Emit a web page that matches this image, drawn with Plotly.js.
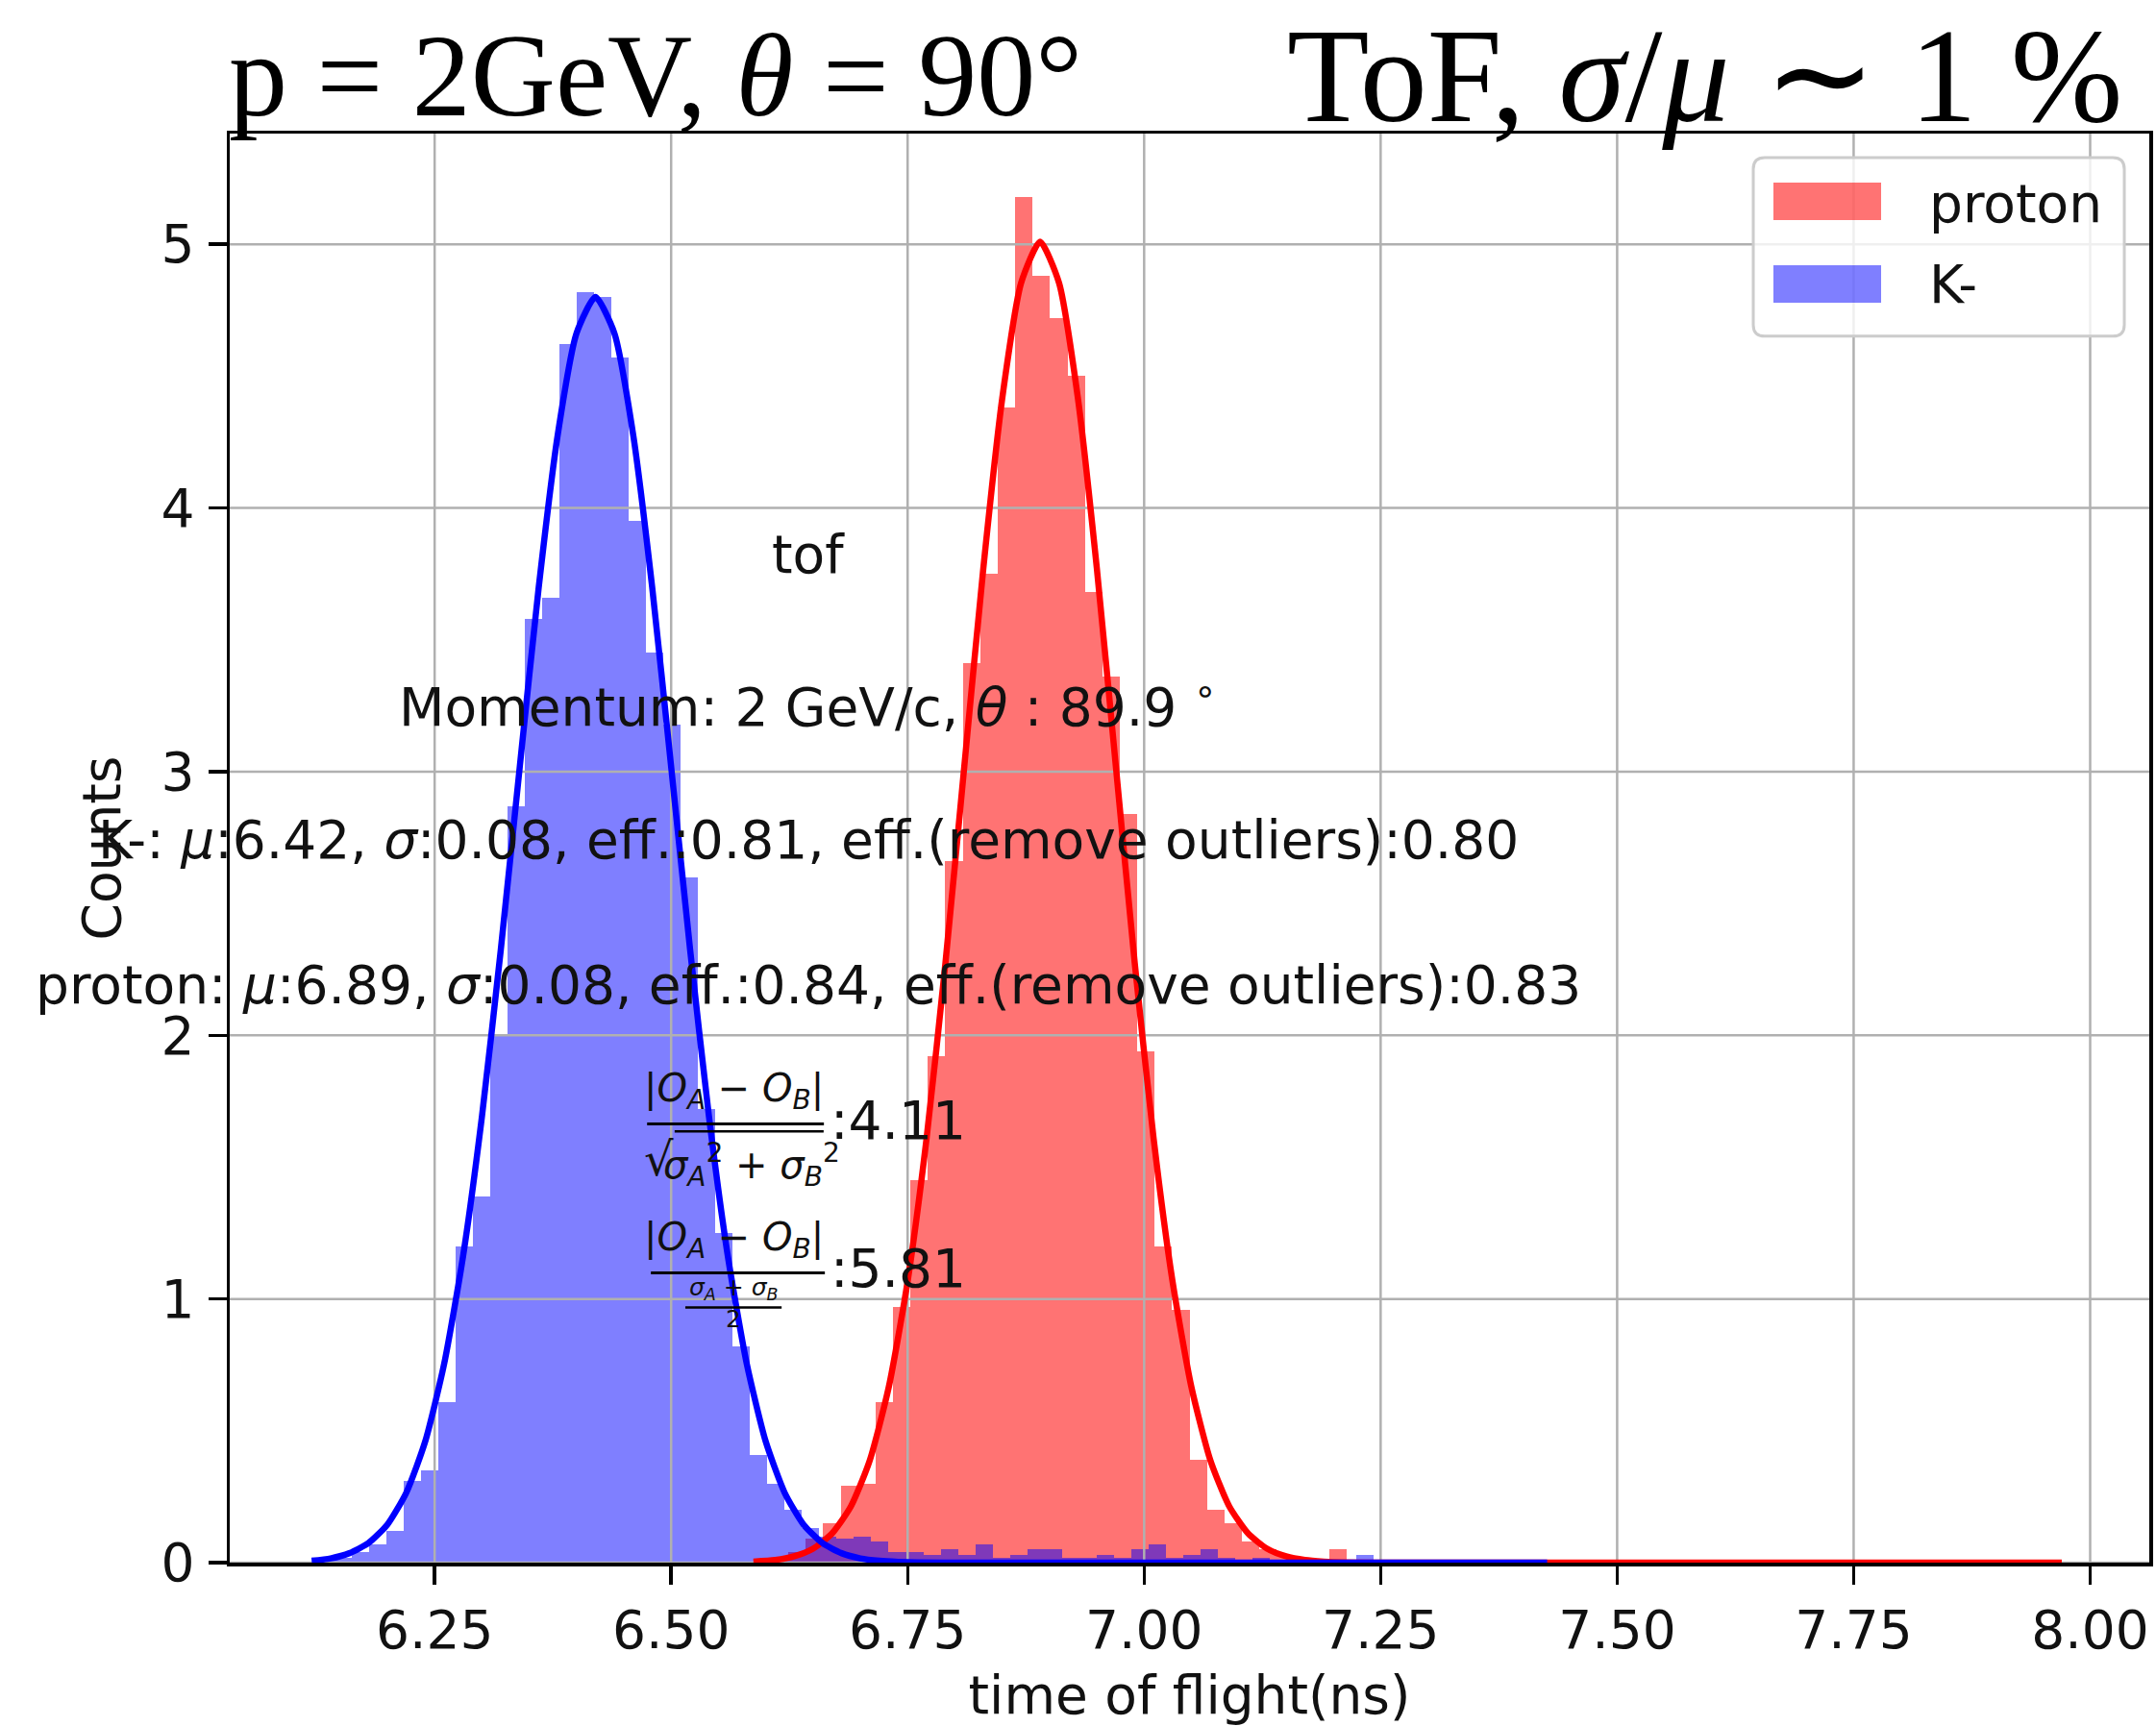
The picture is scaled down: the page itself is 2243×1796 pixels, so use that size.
<!DOCTYPE html>
<html>
<head>
<meta charset="utf-8">
<script src="https://cdn.plot.ly/plotly-3.0.1.min.js"></script>
<style>
html, body { margin: 0; padding: 0; background: #ffffff; }
#chart { width: 2243px; height: 1796px; }
</style>
</head>
<body>
<div id="chart"></div>
<script>
// ---------------- data ----------------
const seriesNames = ['proton', 'K-'];

// K- histogram (density), equal-width bins
const kaonBinStart = 6.126;
const kaonBinWidth = 0.0183;
const kaonDensity = [
  0.02, 0.02, 0.04, 0.07, 0.12, 0.31, 0.35, 0.61, 1.20, 1.39,
  2.00, 2.87, 3.58, 3.66, 4.62, 4.82, 4.80, 4.57, 3.95, 3.45,
  3.18, 2.60, 1.72, 1.25, 0.82, 0.41, 0.30, 0.20, 0.13, 0.10,
  0.09, 0.10, 0.08, 0.04, 0.04, 0.03, 0.05, 0.03, 0.07, 0.02,
  0.03, 0.05, 0.05, 0.02, 0.02, 0.03, 0.02, 0.05, 0.07, 0.02,
  0.03, 0.05, 0.02, 0.01, 0.02, 0.01, 0.00, 0.01, 0.00, 0.00,
  0.03, 0.00, 0.00, 0.00, 0.00, 0.00, 0.00, 0.00, 0.00, 0.00,
  0.00
];

// proton histogram (density), equal-width bins
const protonBinStart = 6.587;
const protonBinWidth = 0.01844;
const protonDensity = [
  0.01, 0.02, 0.04, 0.09, 0.15, 0.29, 0.30, 0.61, 0.97, 1.45,
  1.92, 2.66, 3.41, 3.75, 4.38, 5.18, 4.88, 4.72, 4.50, 3.68,
  3.36, 2.84, 1.94, 1.20, 0.96, 0.39, 0.20, 0.15, 0.08, 0.05,
  0.03, 0.02, 0.00, 0.05, 0.00, 0.00, 0.00, 0.00, 0.00, 0.00,
  0.00, 0.00, 0.00, 0.00, 0.00, 0.00, 0.00, 0.00, 0.00, 0.00,
  0.00, 0.00, 0.00, 0.00, 0.00, 0.00, 0.00, 0.00, 0.00, 0.00,
  0.00, 0.00, 0.00, 0.00, 0.00, 0.00, 0.00, 0.00, 0.00, 0.00,
  0.00, 0.00, 0.00, 0.00, 0.00
];

// fitted curves, points
const kaonFitX = [6.12, 6.14, 6.16, 6.18, 6.20, 6.22, 6.24, 6.26, 6.28, 6.30,
  6.32, 6.34, 6.36, 6.38, 6.40, 6.42, 6.44, 6.46, 6.48, 6.50,
  6.52, 6.54, 6.56, 6.58, 6.60, 6.62, 6.64, 6.66, 6.68, 6.70,
  6.72, 6.74, 6.76, 6.80, 7.426];
const kaonFitY = [0.007, 0.016, 0.036, 0.074, 0.144, 0.265, 0.459, 0.753, 1.161, 1.692,
  2.327, 3.019, 3.698, 4.275, 4.663, 4.800, 4.663, 4.275, 3.698, 3.019,
  2.327, 1.692, 1.161, 0.753, 0.459, 0.265, 0.144, 0.074, 0.036, 0.016,
  0.007, 0.003, 0.001, 0.000, 0.000];

const protonFitX = [6.587, 6.61, 6.63, 6.65, 6.67, 6.69, 6.71, 6.73, 6.75, 6.77,
  6.79, 6.81, 6.83, 6.85, 6.87, 6.89, 6.91, 6.93, 6.95, 6.97,
  6.99, 7.01, 7.03, 7.05, 7.07, 7.09, 7.11, 7.13, 7.15, 7.17,
  7.19, 7.21, 7.25, 7.97];
const protonFitY = [0.004, 0.010, 0.024, 0.053, 0.110, 0.213, 0.388, 0.665, 1.067, 1.609,
  2.276, 3.024, 3.771, 4.416, 4.854, 5.010, 4.854, 4.416, 3.771, 3.024,
  2.276, 1.609, 1.067, 0.665, 0.388, 0.213, 0.110, 0.053, 0.024, 0.010,
  0.004, 0.001, 0.000, 0.000];

const xTickVals = [6.25, 6.50, 6.75, 7.00, 7.25, 7.50, 7.75, 8.00];
const yTickVals = [0, 1, 2, 3, 4, 5];

// ---------------- styling / layout ----------------
const X_RANGE = [6.0334, 8.0625];
const Y_RANGE = [0, 5.42];
const FONT = 'DejaVu Sans, Verdana, sans-serif';
const SERIF = 'Liberation Serif, Times New Roman, serif';
const RED_FILL = 'rgba(255,0,0,0.55)';
const BLUE_FILL = 'rgba(0,0,255,0.5)';
const GRID = '#b0b0b0';

function binCenters(start, width, n) {
  const c = [];
  for (let i = 0; i < n; i++) c.push(start + (i + 0.5) * width);
  return c;
}

const protonBars = {
  type: 'bar', name: seriesNames[0],
  x: binCenters(protonBinStart, protonBinWidth, protonDensity.length),
  y: protonDensity, width: protonBinWidth,
  marker: { color: RED_FILL, line: { width: 0 } },
  hoverinfo: 'skip', showlegend: false
};
const kaonBars = {
  type: 'bar', name: seriesNames[1],
  x: binCenters(kaonBinStart, kaonBinWidth, kaonDensity.length),
  y: kaonDensity, width: kaonBinWidth,
  marker: { color: BLUE_FILL, line: { width: 0 } },
  hoverinfo: 'skip', showlegend: false
};

// grid lines drawn between the bars and the fit curves (as in matplotlib)
const gx = [], gy = [];
xTickVals.forEach(t => { gx.push(t, t, null); gy.push(Y_RANGE[0], Y_RANGE[1], null); });
yTickVals.forEach(t => { gx.push(X_RANGE[0], X_RANGE[1], null); gy.push(t, t, null); });
const gridTrace = {
  type: 'scatter', mode: 'lines', x: gx, y: gy,
  line: { color: GRID, width: 2.5 }, hoverinfo: 'skip', showlegend: false,
  connectgaps: false
};

const protonFit = {
  type: 'scatter', mode: 'lines', x: protonFitX, y: protonFitY,
  line: { color: '#ff0000', width: 6.5, shape: 'spline', smoothing: 0.6 },
  hoverinfo: 'skip', showlegend: false
};
const kaonFit = {
  type: 'scatter', mode: 'lines', x: kaonFitX, y: kaonFitY,
  line: { color: '#0000ff', width: 6.5, shape: 'spline', smoothing: 0.6 },
  hoverinfo: 'skip', showlegend: false
};

const txt = (text, x, y, size, extra) => Object.assign({
  text: text, x: x, y: y, xref: 'x', yref: 'y', showarrow: false,
  xanchor: 'center', yanchor: 'middle',
  font: { family: FONT, size: size, color: '#111111' }
}, extra || {});

const annotations = [
  // figure titles
  { text: 'p = 2GeV, <i>θ</i> = 90°', xref: 'paper', yref: 'paper', x: -0.0015, y: 1.041,
    xanchor: 'left', yanchor: 'middle', showarrow: false,
    font: { family: SERIF, size: 122, color: '#000000' } },
  { text: 'ToF, <i>σ</i>/<i>μ</i> ∼ 1 %', xref: 'paper', yref: 'paper', x: 0.987, y: 1.041,
    xanchor: 'right', yanchor: 'middle', showarrow: false,
    font: { family: SERIF, size: 140, color: '#000000' } },
  // in-plot texts
  txt('tof', 6.645, 3.825, 55),
  txt('Momentum: 2 GeV/c, <i>θ</i> : 89.9 <sup>∘</sup>', 6.645, 3.26, 55),
  txt('K-: <i>μ</i>:6.42, <i>σ</i>:0.08, eff.:0.81, eff.(remove outliers):0.80', 6.645, 2.74, 55),
  txt('proton: <i>μ</i>:6.89, <i>σ</i>:0.08, eff.:0.84, eff.(remove outliers):0.83', 6.645, 2.19, 55),
  // first separation formula
  txt('|<i>O</i><sub><i>A</i></sub> − <i>O</i><sub><i>B</i></sub>|', 6.566, 1.79, 40),
  txt('√', 6.487, 1.53, 48),
  txt('<i>σ</i><sub><i>A</i></sub><sup>2</sup> + <i>σ</i><sub><i>B</i></sub><sup>2</sup>', 6.585, 1.51, 40),
  txt(':4.11', 6.6666, 1.678, 55, { xanchor: 'left' }),
  // second separation formula
  txt('|<i>O</i><sub><i>A</i></sub> − <i>O</i><sub><i>B</i></sub>|', 6.566, 1.225, 40),
  txt('<i>σ</i><sub><i>A</i></sub> + <i>σ</i><sub><i>B</i></sub>', 6.566, 1.04, 25),
  txt('2', 6.566, 0.925, 25),
  txt(':5.81', 6.6666, 1.117, 55, { xanchor: 'left' }),
  // legend labels
  { text: seriesNames[0], xref: 'paper', yref: 'paper', x: 0.8843, y: 0.9509,
    xanchor: 'left', yanchor: 'middle', showarrow: false,
    font: { family: FONT, size: 55, color: '#111111' } },
  { text: seriesNames[1], xref: 'paper', yref: 'paper', x: 0.8843, y: 0.8945,
    xanchor: 'left', yanchor: 'middle', showarrow: false,
    font: { family: FONT, size: 55, color: '#111111' } }
];

const fracLine = (x0, x1, y, w) => ({
  type: 'line', xref: 'x', yref: 'y', x0: x0, x1: x1, y0: y, y1: y,
  line: { color: '#000000', width: w }, layer: 'above'
});

// legend frame (rounded) and swatches
const L = { x0: 0.7937, x1: 0.9870, yT: 0.9832, yB: 0.8582, rx: 0.006, ry: 0.008 };
const legendPath =
  `M ${L.x0 + L.rx},${L.yT} L ${L.x1 - L.rx},${L.yT} Q ${L.x1},${L.yT} ${L.x1},${L.yT - L.ry} ` +
  `L ${L.x1},${L.yB + L.ry} Q ${L.x1},${L.yB} ${L.x1 - L.rx},${L.yB} ` +
  `L ${L.x0 + L.rx},${L.yB} Q ${L.x0},${L.yB} ${L.x0},${L.yB + L.ry} ` +
  `L ${L.x0},${L.yT - L.ry} Q ${L.x0},${L.yT} ${L.x0 + L.rx},${L.yT} Z`;

const shapes = [
  fracLine(6.4746, 6.6615, 1.664, 3),
  fracLine(6.5037, 6.6612, 1.636, 2.5),
  fracLine(6.4786, 6.6625, 1.099, 3),
  fracLine(6.5150, 6.6168, 0.968, 2.5),
  { type: 'path', xref: 'paper', yref: 'paper', path: legendPath,
    fillcolor: 'rgba(255,255,255,0.8)', line: { color: '#cccccc', width: 3 }, layer: 'above' },
  { type: 'rect', xref: 'paper', yref: 'paper', x0: 0.8042, x1: 0.8603, y0: 0.9395, y1: 0.9657,
    fillcolor: RED_FILL, line: { width: 0 }, layer: 'above' },
  { type: 'rect', xref: 'paper', yref: 'paper', x0: 0.8042, x1: 0.8603, y0: 0.8817, y1: 0.9079,
    fillcolor: BLUE_FILL, line: { width: 0 }, layer: 'above' }
];

const axisCommon = {
  showgrid: false, zeroline: false, showline: true, mirror: true,
  linecolor: '#000000', linewidth: 3.5,
  ticks: 'outside', ticklen: 19, tickwidth: 3.5, tickcolor: '#000000',
  tickfont: { family: FONT, size: 55, color: '#111111' },
  automargin: false, fixedrange: true
};

const layout = {
  width: 2243, height: 1796,
  paper_bgcolor: '#ffffff', plot_bgcolor: '#ffffff',
  margin: { l: 239, r: 7, t: 139, b: 170, pad: 0 },
  barmode: 'overlay', bargap: 0,
  showlegend: false,
  xaxis: Object.assign({}, axisCommon, {
    range: X_RANGE, tickmode: 'array', tickvals: xTickVals, tickformat: '.2f',
    ticklabelstandoff: 0,
    title: { text: 'time of flight(ns)', font: { family: FONT, size: 55, color: '#111111' }, standoff: 40 }
  }),
  yaxis: Object.assign({}, axisCommon, {
    range: Y_RANGE, tickmode: 'array', tickvals: yTickVals, tickformat: 'd',
    ticklabelstandoff: 3,
    title: { text: 'Counts', font: { family: FONT, size: 55, color: '#111111' }, standoff: 25 }
  }),
  annotations: annotations,
  shapes: shapes
};

Plotly.newPlot('chart', [protonBars, kaonBars, gridTrace, protonFit, kaonFit], layout,
  { staticPlot: true, displayModeBar: false });
</script>
</body>
</html>
